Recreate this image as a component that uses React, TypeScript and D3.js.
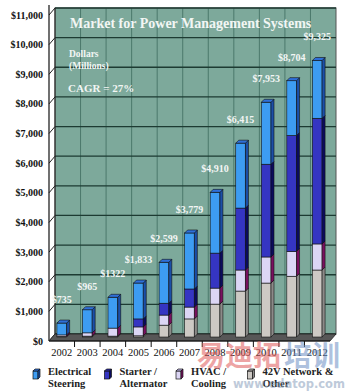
import React, { useRef, useEffect } from 'react';
import * as d3 from 'd3';

// values ($ millions)
const years = ['2002', '2003', '2004', '2005', '2006', '2007', '2008', '2009', '2010', '2011', '2012'];
const electrical = [400, 780, 1040, 1210, 1380, 1890, 2050, 2190, 2090, 1850, 1950];
const starter = [0, 0, 0, 270, 400, 610, 1180, 2090, 3130, 3910, 4240];
const hvac = [50, 110, 270, 300, 340, 400, 540, 710, 880, 840, 880];
const network = [20, 30, 30, 40, 400, 610, 1110, 1550, 1820, 2050, 2260];
const totalLabels = ['$735', '$965', '$1322', '$1,833', '$2,599', '$3,779', '$4,910', '$6,415', '$7,953', '$8,704', '$9,325'];
const yTicks = [0, 1000, 2000, 3000, 4000, 5000, 6000, 7000, 8000, 9000, 10000, 11000];
const legendLabels = [['Electrical', 'Steering'], ['Starter /', 'Alternator'], ['HVAC /', 'Cooling'], ['42V Network &', 'Other']];

const FONT = '"Liberation Serif", "Times New Roman", serif';

// bottom to top
const series = [
  { values: network, front: '#cdc9c4', side: '#8c8a88', top: '#aeaaa6' },
  { values: hvac, front: '#dcd6f5', side: '#7a1060', top: '#b9b0e2' },
  { values: starter, front: '#3535c2', side: '#0b0b5e', top: '#2a2aa2' },
  { values: electrical, front: '#3d9cf2', side: '#1b4fa8', top: '#2f6fd8' },
];
const legendColors = [series[3], series[2], series[1], series[0]];

const App = () => {
  const ref = useRef<SVGSVGElement>(null);

  useEffect(() => {
    const svg = d3.select(ref.current);
    svg.selectAll('*').remove();

    const x = d3.scaleBand().domain(years).range([49, 330]).paddingInner(0.62).paddingOuter(0.31);
    const y = d3.scaleLinear().domain([0, 11000]).range([341, 15]);
    const dx = 6, dy = -7; // wall depth
    const barDy = -4, bd = 3; // bar position / bar depth
    const step = x.step();
    const bw = x.bandwidth();
    const x0 = 49, x1 = 330;

    // back wall
    svg.append('rect')
      .attr('x', x0 + dx).attr('y', y(11000) + dy)
      .attr('width', x1 - x0).attr('height', y(0) - y(11000))
      .attr('fill', '#7da99b').attr('stroke', '#555').attr('stroke-width', 1);

    // vertical category lines on wall
    d3.range(1, years.length).forEach((i) => {
      svg.append('line')
        .attr('x1', x0 + i * step + dx).attr('x2', x0 + i * step + dx)
        .attr('y1', y(11000) + dy).attr('y2', y(0) + dy)
        .attr('stroke', '#3f6c5f').attr('stroke-width', 0.8);
    });

    // horizontal gridlines + side-wall slants
    yTicks.forEach((v) => {
      svg.append('line')
        .attr('x1', x0 + dx).attr('x2', x1 + dx)
        .attr('y1', y(v) + dy).attr('y2', y(v) + dy)
        .attr('stroke', '#1d3b32').attr('stroke-width', 1.3);
      svg.append('line')
        .attr('x1', x0).attr('x2', x0 + dx)
        .attr('y1', y(v)).attr('y2', y(v) + dy)
        .attr('stroke', '#222').attr('stroke-width', 1);
      svg.append('text')
        .attr('x', 43).attr('y', y(v) + 3.5)
        .attr('text-anchor', 'end')
        .attr('font-family', FONT).attr('font-size', 10).attr('font-weight', 'bold')
        .attr('fill', '#111')
        .text('$' + d3.format(',')(v));
    });

    // wall left edge and axis
    svg.append('line')
      .attr('x1', x0 + dx).attr('x2', x0 + dx)
      .attr('y1', y(11000) + dy).attr('y2', y(0) + dy)
      .attr('stroke', '#222').attr('stroke-width', 1);
    svg.append('line')
      .attr('x1', x0).attr('x2', x0)
      .attr('y1', y(11000) - 10).attr('y2', y(0))
      .attr('stroke', '#111').attr('stroke-width', 1.2);

    // floor
    svg.append('polygon')
      .attr('points', [[x0, y(0)], [x1, y(0)], [x1 + dx, y(0) + dy], [x0 + dx, y(0) + dy]].map((p) => p.join(',')).join(' '))
      .attr('fill', '#575757').attr('stroke', '#222').attr('stroke-width', 0.8);
    svg.append('line')
      .attr('x1', x0).attr('x2', x1).attr('y1', y(0)).attr('y2', y(0))
      .attr('stroke', '#111').attr('stroke-width', 1.2);

    // category ticks
    d3.range(1, years.length).forEach((i) => {
      svg.append('line')
        .attr('x1', x0 + i * step).attr('x2', x0 + i * step)
        .attr('y1', y(0)).attr('y2', y(0) + 6)
        .attr('stroke', '#111').attr('stroke-width', 1);
    });

    // bars
    years.forEach((yr, i) => {
      const bx = x(yr) as number;
      let cum = 0;
      let lastIdx = -1;
      series.forEach((s, k) => { if (s.values[i] > 0) lastIdx = k; });
      series.forEach((s, k) => {
        const v = s.values[i];
        if (v <= 0) return;
        const yb = y(cum) + barDy;
        const yt = y(cum + v) + barDy;
        cum += v;
        svg.append('rect')
          .attr('x', bx).attr('y', yt).attr('width', bw).attr('height', yb - yt)
          .attr('fill', s.front).attr('stroke', '#111').attr('stroke-width', 0.6);
        svg.append('polygon')
          .attr('points', [[bx + bw, yt], [bx + bw + bd, yt - bd], [bx + bw + bd, yb - bd], [bx + bw, yb]].map((p) => p.join(',')).join(' '))
          .attr('fill', s.side).attr('stroke', '#111').attr('stroke-width', 0.6);
        if (k === lastIdx) {
          svg.append('polygon')
            .attr('points', [[bx, yt], [bx + bd, yt - bd], [bx + bw + bd, yt - bd], [bx + bw, yt]].map((p) => p.join(',')).join(' '))
            .attr('fill', s.top).attr('stroke', '#111').attr('stroke-width', 0.6);
        }
      });
      svg.append('text')
        .attr('x', bx + bw / 2).attr('y', y(cum) + barDy - 20)
        .attr('text-anchor', 'middle')
        .attr('font-family', FONT).attr('font-size', 10).attr('font-weight', 'bold')
        .attr('fill', '#f3f6f5')
        .text(totalLabels[i]);
      svg.append('text')
        .attr('x', bx + bw / 2).attr('y', 356)
        .attr('text-anchor', 'middle')
        .attr('font-family', FONT).attr('font-size', 10.5)
        .attr('fill', '#111')
        .text(yr);
    });

    // title and notes
    svg.append('text')
      .attr('x', 70).attr('y', 28)
      .attr('font-family', FONT).attr('font-size', 14).attr('font-weight', 'bold')
      .attr('fill', '#f2f6f4')
      .text('Market for Power Management Systems');
    svg.append('text')
      .attr('x', 69).attr('y', 57)
      .attr('font-family', FONT).attr('font-size', 9.5).attr('font-weight', 'bold')
      .attr('fill', '#f2f6f4').text('Dollars');
    svg.append('text')
      .attr('x', 69).attr('y', 69)
      .attr('font-family', FONT).attr('font-size', 9.5).attr('font-weight', 'bold')
      .attr('fill', '#f2f6f4').text('(Millions)');
    svg.append('text')
      .attr('x', 68).attr('y', 92)
      .attr('font-family', FONT).attr('font-size', 11).attr('font-weight', 'bold')
      .attr('fill', '#f2f6f4').text('CAGR = 27%');

    // legend
    legendLabels.forEach((lines, i) => {
      const lx = 33 + i * 71.5;
      const c = legendColors[i];
      const g = svg.append('g');
      g.append('rect').attr('x', lx).attr('y', 371).attr('width', 5).attr('height', 8)
        .attr('fill', c.front).attr('stroke', '#111').attr('stroke-width', 0.7);
      g.append('polygon')
        .attr('points', [[lx, 371], [lx + 2, 369], [lx + 7, 369], [lx + 5, 371]].map((p) => p.join(',')).join(' '))
        .attr('fill', c.top).attr('stroke', '#111').attr('stroke-width', 0.7);
      g.append('polygon')
        .attr('points', [[lx + 5, 371], [lx + 7, 369], [lx + 7, 377], [lx + 5, 379]].map((p) => p.join(',')).join(' '))
        .attr('fill', c.side).attr('stroke', '#111').attr('stroke-width', 0.7);
      lines.forEach((t, j) => {
        g.append('text')
          .attr('x', lx + 15).attr('y', 375 + j * 12)
          .attr('font-family', FONT).attr('font-size', 10.5).attr('font-weight', 'bold')
          .attr('fill', '#222').text(t);
      });
    });

    // watermark overlay, as in the source image
    const wm = svg.append('g').attr('opacity', 0.55);
    wm.append('text')
      .attr('x', 197).attr('y', 366)
      .attr('font-family', '"Noto Sans CJK SC"').attr('font-size', 28).attr('font-weight', 'bold')
      .attr('fill', '#e05a5a').text('易迪拓');
    wm.append('text')
      .attr('x', 284).attr('y', 366)
      .attr('font-family', '"Noto Sans CJK SC"').attr('font-size', 28).attr('font-weight', 'bold')
      .attr('fill', '#6d8fc4').text('培训');
    wm.append('text')
      .attr('x', 233).attr('y', 388)
      .attr('font-family', '"DejaVu Sans"').attr('font-size', 11.5).attr('font-weight', 'bold')
      .attr('fill', '#8aa0bc').text('www.edatop.com');
  }, []);

  return <svg ref={ref} width={350} height={392} style={{ position: 'absolute', left: 0, top: 0, background: '#fff' }} />;
};

export default App;
